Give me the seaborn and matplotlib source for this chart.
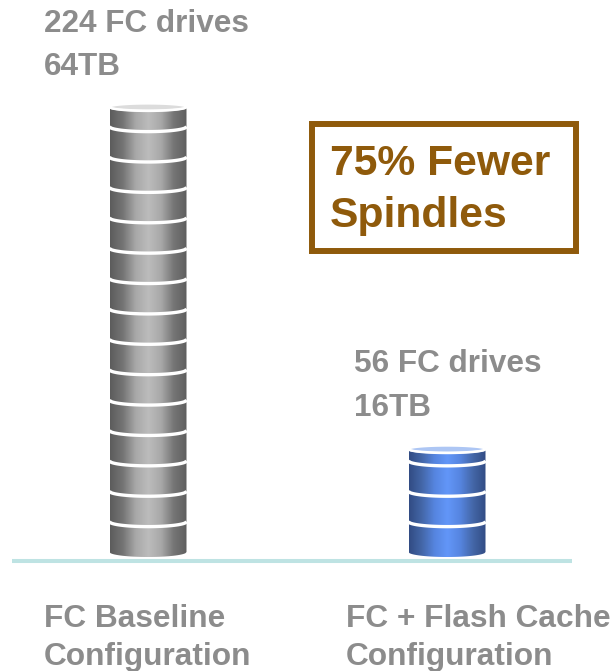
import numpy as np
import pandas as pd
import matplotlib
matplotlib.use('Agg')
import matplotlib.pyplot as plt
from matplotlib.colors import LinearSegmentedColormap
from matplotlib.patches import PathPatch, Rectangle
from matplotlib.path import Path
import seaborn as sns

# data
configs = ['FC Baseline\nConfiguration', 'FC + Flash Cache\nConfiguration']
drive_labels = ['224 FC drives\n64TB', '56 FC drives\n16TB']
stack_heights = [64.0, 14.8]   # drawn height, right stack is a bit short of 16
tier_counts = [14, 3]          # white rings on each stack
tier_pitch = 4.37
callout = '75% Fewer\nSpindles'

# colours
grey_ramp = ['#5c5c5c', '#757575', '#a8a8a8', '#bcbcbc', '#a8a8a8', '#757575', '#5f5f5f']
blue_ramp = ['#324c84', '#4467a8', '#5685e0', '#6296f8', '#5685e0', '#4467a8', '#324c84']
top_colors = ['#dcdcdc', '#adc6f4']
text_grey = '#8c8c8c'
brown = '#8f5a0b'
base_color = '#bee3e3'

W, H = 616, 671
px_x = 299.0       # pixels per category step
px_y = 445 / 64.0  # pixels per unit
x0_px, y0_px = 148, 552

df = pd.DataFrame({'config': configs, 'height': stack_heights})

sns.set_theme(style='white')
plt.rcParams['font.family'] = ['Liberation Sans', 'DejaVu Sans']

fig = plt.figure(figsize=(W / 100, H / 100), dpi=100)
ax = fig.add_axes([0, 0, 1, 1])
sns.barplot(data=df, x='config', y='height', hue='config', ax=ax, legend=False,
            palette=['#a0a0a0', '#5583dc'], width=77 / px_x, saturation=1)

xlim = (-x0_px / px_x, (W - x0_px) / px_x)
ylim = ((y0_px - H) / px_y, y0_px / px_y)
bow = 5 / px_y

# turn each bar into a shaded cylinder
for bar, ramp, top_c, n_rings, in zip(ax.patches, [grey_ramp, blue_ramp], top_colors, tier_counts):
    left, width, h = bar.get_x(), bar.get_width(), bar.get_height()
    bar.set_visible(False)
    xs = np.linspace(left, left + width, 80)
    t = (xs - left) / width * 2 - 1
    arc = np.sqrt(1 - t ** 2)

    verts = np.vstack([
        np.column_stack([xs, -bow * arc]),
        [[left + width, h]],
        [[left, h]],
        [[left, 0]],
    ])
    clip = PathPatch(Path(verts), transform=ax.transData, facecolor='none', edgecolor='none')
    ax.add_patch(clip)
    cmap = LinearSegmentedColormap.from_list('cyl', ramp)
    im = ax.imshow(np.linspace(0, 1, 200)[None, :], cmap=cmap, aspect='auto',
                   extent=(left, left + width, -bow, h), zorder=2)
    im.set_clip_path(clip)

    # white rings between the disks
    for k in range(1, n_rings + 1):
        ax.plot(xs, k * tier_pitch - bow * arc, color='white', lw=2.4, zorder=3,
                solid_capstyle='butt')

    # top face
    top_h = 3.5 / px_y
    top_xs = np.concatenate([xs, xs[::-1]])
    top_ys = h + np.concatenate([-top_h * arc, top_h * arc[::-1]])
    ax.fill(top_xs, top_ys, facecolor=top_c, edgecolor='white', lw=1.6, zorder=4)
    ax.plot(xs, h - bow * 0.8 * arc, color='white', lw=1.6, zorder=4)

# baseline
ax.hlines(-9 / px_y, (12 - x0_px) / px_x, (572 - x0_px) / px_x, color=base_color, lw=2.9, zorder=1)

ax.set_xlim(xlim)
ax.set_ylim(ylim)
ax.axis('off')

# texts, offsets in pixels from each category
label_dx = [-104, -101]
drive_dx = [-104, -93]
drive_dy = [61.5, 63]
for i, (cfg, drv) in enumerate(zip(configs, drive_labels)):
    ax.annotate(drv, xy=(i, stack_heights[i]), xytext=(drive_dx[i] * 0.72, drive_dy[i] * 0.72),
                textcoords='offset points', ha='left', va='center', fontsize=22.7,
                fontweight='bold', color=text_grey, linespacing=1.58)
    ax.annotate(cfg, xy=(i, 0), xytext=(label_dx[i] * 0.72, -86 * 0.72),
                textcoords='offset points', ha='left', va='center', fontsize=22.8,
                fontweight='bold', color=text_grey, linespacing=1.36)

# callout box
fig.add_artist(Rectangle((312 / W, 1 - 251 / H), 264 / W, 127 / H, transform=fig.transFigure,
                         facecolor='white', edgecolor=brown, lw=4.3))
fig.text(330 / W, 1 - 190 / H, callout, ha='left', va='center', fontsize=30.7,
         fontweight='bold', color=brown, linespacing=1.36)

fig.savefig('out.png', dpi=100)
plt.close(fig)
